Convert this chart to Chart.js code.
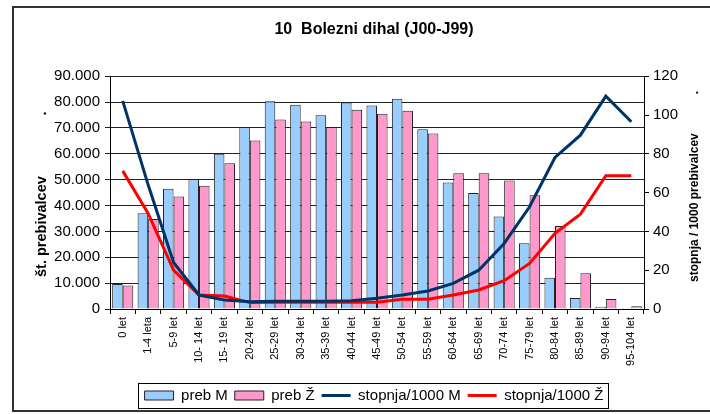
<!DOCTYPE html>
<html>
<head>
<meta charset="utf-8">
<script src="https://cdn.jsdelivr.net/npm/chart.js@4/dist/chart.umd.min.js"></script>
<style>
  body { margin: 0; background: #fff; }
  canvas { display: block; }
</style>
</head>
<body>
<canvas id="chart" width="710" height="414"></canvas>
<script>
// data
const ageGroups = ['0 let', '1-4 leta', '5-9 let', '10- 14 let', '15- 19 let', '20-24 let', '25-29 let',
  '30-34 let', '35-39 let', '40-44 let', '45-49 let', '50-54 let', '55-59 let', '60-64 let', '65-69 let',
  '70-74 let', '75-79 let', '80-84 let', '85-89 let', '90-94 let', '95-104 let'];

const popMen = [9700, 37000, 46500, 50200, 60000, 70400, 80300, 79000, 74900, 79800, 78700,
  81300, 69500, 48900, 44800, 35800, 25400, 12100, 4300, 900, 270];
const popWomen = [9100, 34800, 43500, 47600, 56300, 65100, 73300, 72500, 70400, 77000, 75500,
  76600, 67800, 52500, 52500, 49700, 44000, 32100, 13800, 3900, 1050];

const rateMen = [107.3, 64, 24, 7.2, 4.6, 3.8, 4, 4, 4, 4.2, 5.5, 7.2, 9.3, 13.2, 20, 33.8,
  52.7, 78.1, 89.6, 109.7, 96.5];
const rateWomen = [71.2, 49.3, 20.1, 7.2, 6.7, 3.3, 3.5, 3.5, 3.5, 3.5, 3.5, 5, 5, 7.2, 9.8, 14.6,
  23.5, 39, 48.9, 68.7, 68.7];

const leftMax = 90000, leftStep = 10000;
const rightMax = 120, rightStep = 20;

const chartTitle = '10  Bolezni dihal (J00-J99)';
const leftTitle = 'št. prebivalcev';
const rightTitle = 'stopnja / 1000 prebivalcev';

Chart.defaults.font.family = '"Liberation Sans", Arial, sans-serif';
Chart.defaults.color = '#000';

function fmtThousands(v) {
  return v.toString().replace(/\B(?=(\d{3})+(?!\d))/g, '.');
}

// frame, rotated axis titles and legend box
const extras = {
  id: 'extras',
  afterDraw(chart) {
    const ctx = chart.ctx;
    const area = chart.chartArea;
    ctx.save();
    ctx.strokeStyle = '#333';
    ctx.lineWidth = 2;
    ctx.beginPath();
    ctx.moveTo(712, 7);
    ctx.lineTo(13, 7);
    ctx.lineTo(13, 411);
    ctx.lineTo(712, 411);
    ctx.stroke();

    ctx.fillStyle = '#000';
    ctx.textAlign = 'center';
    ctx.textBaseline = 'middle';

    const midY = (area.top + area.bottom) / 2;
    ctx.save();
    ctx.translate(42, midY + 34);
    ctx.rotate(-Math.PI / 2);
    ctx.font = 'bold 14.5px "Liberation Sans", Arial, sans-serif';
    ctx.fillText(leftTitle, 0, 0);
    ctx.fillText('.', 113, 0);
    ctx.restore();

    ctx.save();
    ctx.translate(695, midY + 15);
    ctx.rotate(-Math.PI / 2);
    ctx.font = 'bold 12px "Liberation Sans", Arial, sans-serif';
    ctx.fillText(rightTitle, 0, 0);
    ctx.fillText('.', 115, 0);
    ctx.restore();

    const boxes = chart.legend.legendHitBoxes;
    if (boxes && boxes.length) {
      const l = Math.min(...boxes.map(b => b.left)) - 7;
      const r = Math.max(...boxes.map(b => b.left + b.width)) + 4;
      const t = boxes[0].top - 5;
      const h = boxes[0].height + 10;
      ctx.strokeStyle = '#000';
      ctx.lineWidth = 1;
      ctx.strokeRect(Math.round(l) + 0.5, Math.round(t) + 0.5, Math.round(r - l), Math.round(h));
    }
    ctx.restore();
  }
};

new Chart(document.getElementById('chart'), {
  type: 'bar',
  data: {
    labels: ageGroups,
    datasets: [
      {
        label: 'preb M',
        data: popMen,
        backgroundColor: '#99CCFF',
        borderColor: '#222',
        borderWidth: 1,
        yAxisID: 'y',
        order: 1,
        categoryPercentage: 0.83,
        barPercentage: 1.0
      },
      {
        label: 'preb Ž',
        data: popWomen,
        backgroundColor: '#FF99CC',
        borderColor: '#222',
        borderWidth: 1,
        yAxisID: 'y',
        order: 1,
        categoryPercentage: 0.83,
        barPercentage: 1.0
      },
      {
        type: 'line',
        label: 'stopnja/1000 M',
        data: rateMen,
        borderColor: '#003366',
        backgroundColor: '#003366',
        borderWidth: 3,
        pointRadius: 0,
        tension: 0,
        order: 0,
        yAxisID: 'y1'
      },
      {
        type: 'line',
        label: 'stopnja/1000 Ž',
        data: rateWomen,
        borderColor: '#FF0000',
        backgroundColor: '#FF0000',
        borderWidth: 3,
        pointRadius: 0,
        tension: 0,
        order: 0,
        yAxisID: 'y1'
      }
    ]
  },
  options: {
    responsive: false,
    animation: false,
    layout: { padding: { left: 38, right: 0, top: 0, bottom: 1 } },
    plugins: {
      title: {
        display: true,
        text: chartTitle,
        font: { size: 16, weight: 'bold' },
        color: '#000',
        padding: { top: 20, bottom: 37 }
      },
      legend: {
        position: 'bottom',
        labels: {
          font: { size: 15 },
          color: '#000',
          padding: 7,
          usePointStyle: true,
          pointStyleWidth: 29,
          boxHeight: 9,
          sort: (a, b) => a.datasetIndex - b.datasetIndex,
          generateLabels(chart) {
            const items = Chart.defaults.plugins.legend.labels.generateLabels(chart);
            items.forEach(item => {
              const ds = chart.data.datasets[item.datasetIndex];
              item.pointStyle = ds.type === 'line' ? 'line' : 'rect';
            });
            return items;
          }
        }
      },
      tooltip: { enabled: false }
    },
    scales: {
      x: {
        grid: { offset: true, drawOnChartArea: false, color: '#000', tickLength: 5 },
        border: { color: '#000' },
        ticks: { autoSkip: false, minRotation: 90, maxRotation: 90, font: { size: 11 }, padding: 3 },
        afterFit(scale) { scale.height = 72; }
      },
      y: {
        position: 'left',
        min: 0,
        max: leftMax,
        grid: { color: '#222', tickLength: 5 },
        border: { color: '#000' },
        ticks: { stepSize: leftStep, font: { size: 15 }, padding: 5, callback: v => fmtThousands(v) },
        afterFit(scale) { scale.width = 72; }
      },
      y1: {
        position: 'right',
        min: 0,
        max: rightMax,
        grid: { drawOnChartArea: false, color: '#000', tickLength: 5 },
        border: { color: '#000' },
        ticks: { stepSize: rightStep, font: { size: 15 }, padding: 4 },
        afterFit(scale) { scale.width = 66; }
      }
    }
  },
  plugins: [extras]
});
</script>
</body>
</html>
